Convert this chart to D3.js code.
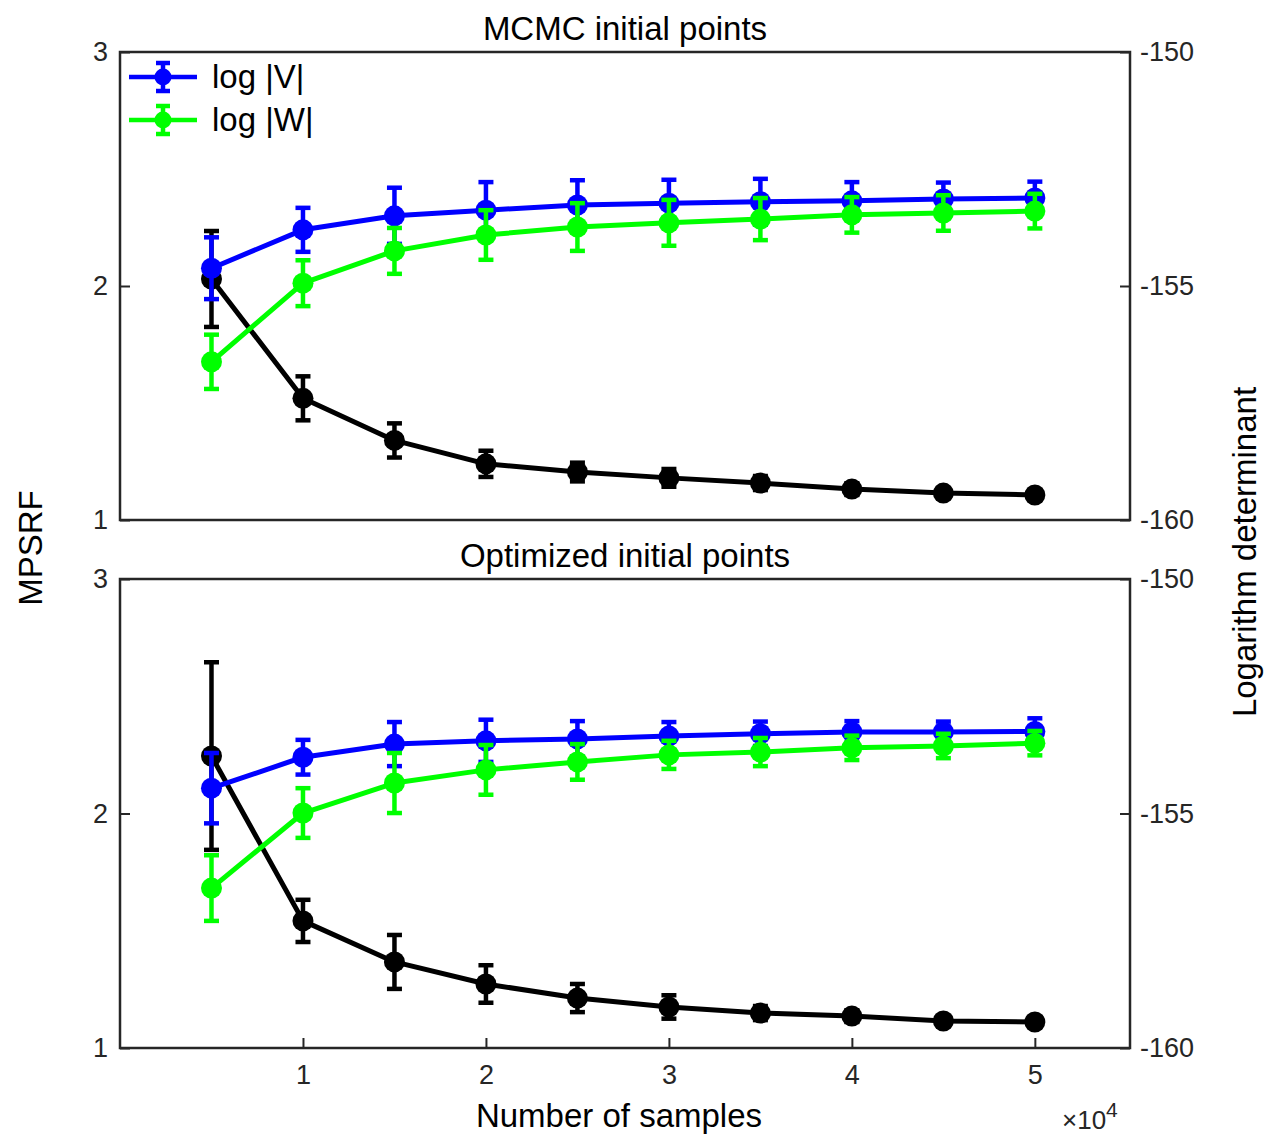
<!DOCTYPE html>
<html>
<head>
<meta charset="utf-8">
<script src="https://cdn.jsdelivr.net/npm/d3@7"></script>
<style>
  body { margin: 0; background: #fff; }
  svg { display: block; font-family: "Liberation Sans", Arial, Helvetica, sans-serif; }
  .tick text { font-size: 27px; fill: #262626; }
  .tick line { stroke: #262626; stroke-width: 2; }
  .lbl { font-size: 33px; fill: #000; }
</style>
</head>
<body>
<svg width="1265" height="1136"></svg>
<script>
// samples (x axis)
const samples = [5000, 10000, 15000, 20000, 25000, 30000, 35000, 40000, 45000, 50000];

// MCMC initial points
const mcmcMpsrf    = [2.03, 1.52, 1.34, 1.24, 1.205, 1.18, 1.158, 1.132, 1.115, 1.107];
const mcmcMpsrfErr = [0.205, 0.094, 0.073, 0.056, 0.04, 0.038, 0.03, 0.025, 0.02, 0.02];
const mcmcLogV     = [-154.62, -153.80, -153.50, -153.38, -153.27, -153.23, -153.20, -153.18, -153.14, -153.12];
const mcmcLogVErr  = [0.66, 0.47, 0.60, 0.60, 0.53, 0.50, 0.49, 0.40, 0.35, 0.35];
const mcmcLogW     = [-156.62, -154.94, -154.25, -153.91, -153.74, -153.65, -153.57, -153.48, -153.44, -153.40];
const mcmcLogWErr  = [0.58, 0.49, 0.49, 0.53, 0.51, 0.49, 0.45, 0.38, 0.38, 0.37];

// Optimized initial points
const optMpsrf    = [2.245, 1.542, 1.367, 1.273, 1.213, 1.175, 1.149, 1.136, 1.115, 1.111];
const optMpsrfErr = [0.40, 0.09, 0.115, 0.08, 0.06, 0.05, 0.03, 0.025, 0.02, 0.02];
const optLogV     = [-154.46, -153.80, -153.52, -153.45, -153.41, -153.35, -153.30, -153.26, -153.26, -153.25];
const optLogVErr  = [0.75, 0.37, 0.47, 0.45, 0.38, 0.30, 0.26, 0.23, 0.22, 0.28];
const optLogW     = [-156.59, -154.99, -154.35, -154.07, -153.90, -153.75, -153.69, -153.60, -153.56, -153.50];
const optLogWErr  = [0.70, 0.53, 0.64, 0.53, 0.38, 0.30, 0.30, 0.26, 0.26, 0.26];

const leftTicks = [1, 2, 3];
const rightTicks = [-160, -155, -150];
const xTicks = [10000, 20000, 30000, 40000, 50000];
const legendNames = ["log |V|", "log |W|"];

const svg = d3.select("svg");
const axisColor = "#262626";
const left = 120, right = 1130;

const x = d3.scaleLinear().domain([0, 55200]).range([left, right]);

const panels = [
  { title: "MCMC initial points", top: 52, bottom: 520, mpsrf: mcmcMpsrf, mpsrfErr: mcmcMpsrfErr,
    v: mcmcLogV, vErr: mcmcLogVErr, w: mcmcLogW, wErr: mcmcLogWErr, xAxis: false, legend: true },
  { title: "Optimized initial points", top: 579, bottom: 1048, mpsrf: optMpsrf, mpsrfErr: optMpsrfErr,
    v: optLogV, vErr: optLogVErr, w: optLogW, wErr: optLogWErr, xAxis: true, legend: false }
];

// one errorbar series: bars with caps, line, round markers
function drawSeries(g, vals, errs, y, color) {
  const pts = samples.map((s, i) => ({ x: s, v: vals[i], e: errs[i] }));
  const s = g.append("g");
  s.selectAll(".bar").data(pts).join("line")
    .attr("x1", d => x(d.x)).attr("x2", d => x(d.x))
    .attr("y1", d => y(d.v - d.e)).attr("y2", d => y(d.v + d.e))
    .attr("stroke", color).attr("stroke-width", 4.5);
  [-1, 1].forEach(k => {
    s.selectAll(null).data(pts).join("line")
      .attr("x1", d => x(d.x) - 7.5).attr("x2", d => x(d.x) + 7.5)
      .attr("y1", d => y(d.v + k * d.e)).attr("y2", d => y(d.v + k * d.e))
      .attr("stroke", color).attr("stroke-width", 4.5);
  });
  s.append("path")
    .attr("d", d3.line().x(d => x(d.x)).y(d => y(d.v))(pts))
    .attr("fill", "none").attr("stroke", color).attr("stroke-width", 5)
    .attr("stroke-linejoin", "round");
  s.selectAll("circle").data(pts).join("circle")
    .attr("cx", d => x(d.x)).attr("cy", d => y(d.v)).attr("r", 10.5)
    .attr("fill", color);
}

panels.forEach(p => {
  const yL = d3.scaleLinear().domain([1, 3]).range([p.bottom, p.top]);
  const yR = d3.scaleLinear().domain([-160, -150]).range([p.bottom, p.top]);
  const g = svg.append("g");

  // axes with inward ticks
  g.append("g").attr("transform", `translate(${left},0)`)
    .call(d3.axisLeft(yL).tickValues(leftTicks).tickSize(-10).tickSizeOuter(0).tickPadding(12).tickFormat(d3.format("d")));
  g.append("g").attr("transform", `translate(${right},0)`)
    .call(d3.axisRight(yR).tickValues(rightTicks).tickSize(-10).tickSizeOuter(0).tickPadding(10).tickFormat(d => String(d)));
  if (p.xAxis) {
    g.append("g").attr("transform", `translate(0,${p.bottom})`)
      .call(d3.axisBottom(x).tickValues(xTicks).tickSize(-10).tickSizeOuter(0).tickPadding(17)
        .tickFormat(d => d / 10000));
  }
  g.selectAll(".domain").remove();

  g.append("rect")
    .attr("x", left).attr("y", p.top).attr("width", right - left).attr("height", p.bottom - p.top)
    .attr("fill", "none").attr("stroke", axisColor).attr("stroke-width", 2.5);

  // MPSRF on the left axis, log determinants on the right axis
  drawSeries(g, p.mpsrf, p.mpsrfErr, yL, "#000000");
  drawSeries(g, p.v, p.vErr, yR, "#0000ff");
  drawSeries(g, p.w, p.wErr, yR, "#00ff00");

  g.append("text").attr("class", "lbl")
    .attr("x", (left + right) / 2).attr("y", p.top - 12)
    .attr("text-anchor", "middle").text(p.title);

  if (p.legend) {
    const colors = ["#0000ff", "#00ff00"];
    legendNames.forEach((name, i) => {
      const ly = 77 + i * 43;
      const lg = g.append("g");
      lg.append("line").attr("x1", 129).attr("x2", 197).attr("y1", ly).attr("y2", ly)
        .attr("stroke", colors[i]).attr("stroke-width", 4.5);
      lg.append("line").attr("x1", 163).attr("x2", 163).attr("y1", ly - 14).attr("y2", ly + 14)
        .attr("stroke", colors[i]).attr("stroke-width", 4.5);
      [-14, 14].forEach(dy => lg.append("line")
        .attr("x1", 156).attr("x2", 170).attr("y1", ly + dy).attr("y2", ly + dy)
        .attr("stroke", colors[i]).attr("stroke-width", 4.5));
      lg.append("circle").attr("cx", 163).attr("cy", ly).attr("r", 8.5).attr("fill", colors[i]);
      lg.append("text").attr("class", "lbl").attr("x", 212).attr("y", ly + 11).text(name);
    });
  }
});

// shared labels
svg.append("text").attr("class", "lbl")
  .attr("transform", "translate(42,548) rotate(-90)")
  .attr("text-anchor", "middle").text("MPSRF");
svg.append("text").attr("class", "lbl")
  .attr("transform", "translate(1256,552) rotate(-90)")
  .attr("text-anchor", "middle").text("Logarithm determinant");
svg.append("text").attr("class", "lbl")
  .attr("x", 619).attr("y", 1127)
  .attr("text-anchor", "middle").text("Number of samples");

const exp = svg.append("text").attr("x", 1062).attr("y", 1129)
  .attr("fill", axisColor).style("font-size", "26px");
exp.append("tspan").text("×10");
exp.append("tspan").attr("dy", -12).style("font-size", "21px").text("4");
</script>
</body>
</html>
